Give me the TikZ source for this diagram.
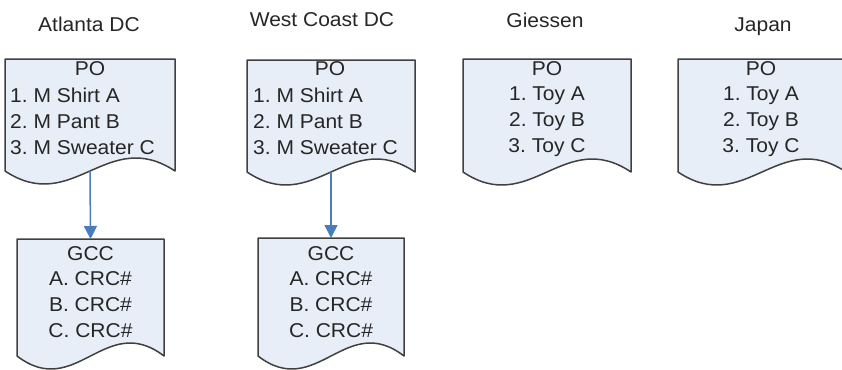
\documentclass[tikz,border=0pt]{standalone}
\usepackage{fontspec}
\setmainfont[FakeStretch=1.05]{Liberation Sans}
\usetikzlibrary{arrows.meta,calc}
\definecolor{docfill}{HTML}{E8EEF7}
\definecolor{docline}{HTML}{404040}
\definecolor{arrowblue}{HTML}{4A7EBB}
\frenchspacing
\tikzset{
  docbox/.style={rectangle, inner sep=0pt, outer sep=0pt},
  docshape/.style={fill=docfill, draw=docline, line width=1.5pt, line join=round},
  lbl/.style={inner sep=0pt, font=\fontsize{20}{25.7}\selectfont\frenchspacing, text=black!85},
  flow/.style={draw=arrowblue, line width=1.5pt, -{Triangle[width=13pt,length=13pt]}}
}
\newcommand{\docpath}[1]{%
  \path[docshape] (#1.north west) -- (#1.north east) -- (#1.south east)
    .. controls ($(#1.south west)!0.6!(#1.south east)+(0,-45)$) and ($(#1.south west)!0.4!(#1.south east)+(0,45)$) .. (#1.south west) -- cycle;}
\begin{document}
\begin{tikzpicture}[x=1pt,y=-1pt]
\useasboundingbox[fill=white] (0,0) rectangle (842,369);
% titles
\node[lbl, anchor=base] (tatl) at (89,32) {Atlanta DC};
\node[lbl, anchor=base] (twc) at (322,27) {West Coast DC};
\node[lbl, anchor=base] (tgie) at (545,28) {Giessen};
\node[lbl, anchor=base] (tjap) at (763,32) {Japan};
% document boxes
\node[docbox, minimum width=170pt, minimum height=112pt] (apo) at (90,115) {};
\node[docbox, minimum width=168pt, minimum height=112pt] (wpo) at (331,116) {};
\node[docbox, minimum width=168pt, minimum height=113pt] (gpo) at (547,115.5) {};
\node[docbox, minimum width=168pt, minimum height=113pt] (jpo) at (762,115.5) {};
\node[docbox, minimum width=147pt, minimum height=117pt] (agcc) at (90.5,297.5) {};
\node[docbox, minimum width=146pt, minimum height=118pt] (wgcc) at (331,297) {};
\docpath{apo}
\docpath{wpo}
\docpath{gpo}
\docpath{jpo}
\docpath{agcc}
\docpath{wgcc}
% texts
\node[lbl, anchor=base] (apoh) at (90,75) {PO};
\node[lbl, anchor=north west, align=left] (apol) at (10,88) {1. M Shirt A\\2. M Pant B\\3. M Sweater C};
\node[lbl, anchor=base] (wpoh) at (330,75) {PO};
\node[lbl, anchor=north west, align=left] (wpol) at (253,88) {1. M Shirt A\\2. M Pant B\\3. M Sweater C};
\node[lbl, anchor=north, align=center] (gpot) at (547,61) {PO\\1. Toy A\\2. Toy B\\3. Toy C};
\node[lbl, anchor=north, align=center] (jpot) at (761,61) {PO\\1. Toy A\\2. Toy B\\3. Toy C};
\node[lbl, anchor=north, align=center] (agcct) at (90.5,246) {GCC\\A. CRC\#\\B. CRC\#\\C. CRC\#};
\node[lbl, anchor=north, align=center] (wgcct) at (331,246) {GCC\\A. CRC\#\\B. CRC\#\\C. CRC\#};
% connectors
\draw[flow] (apo.south) -- (agcc.north);
\draw[flow] (wpo.south) -- (wgcc.north);
\end{tikzpicture}
\end{document}
